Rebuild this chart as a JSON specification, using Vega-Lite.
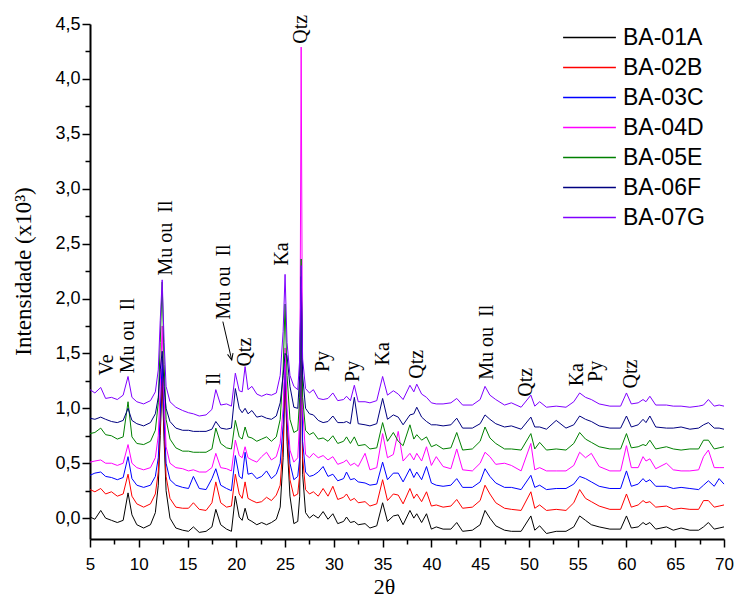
{
"$schema":"https://vega.github.io/schema/vega-lite/v6.json",
"width":634,"height":515,
"autosize":"none",
"padding":{"left":90,"top":24,"right":10,"bottom":58},
"config":{"view":{"stroke":null},"background":"white"},
"datasets":{
"xrd":[
{"s":"BA-01A","x":5,"y":0.01},{"s":"BA-01A","x":5.5,"y":-0.01},{"s":"BA-01A","x":6.1,"y":0.07},{"s":"BA-01A","x":6.6,"y":0.0},{"s":"BA-01A","x":7.2,"y":-0.02},{"s":"BA-01A","x":7.8,"y":-0.04},{"s":"BA-01A","x":8.4,"y":-0.02},{"s":"BA-01A","x":8.9,"y":0.23},{"s":"BA-01A","x":9.3,"y":0.03},{"s":"BA-01A","x":9.8,"y":-0.06},
{"s":"BA-01A","x":10.5,"y":-0.09},{"s":"BA-01A","x":11.2,"y":-0.06},{"s":"BA-01A","x":11.7,"y":0.05},{"s":"BA-01A","x":12,"y":0.3},{"s":"BA-01A","x":12.2,"y":0.75},{"s":"BA-01A","x":12.4,"y":1.25},{"s":"BA-01A","x":12.6,"y":0.7},{"s":"BA-01A","x":12.8,"y":0.25},{"s":"BA-01A","x":13.2,"y":0.0},{"s":"BA-01A","x":13.8,"y":-0.09},
{"s":"BA-01A","x":14.5,"y":-0.11},{"s":"BA-01A","x":15.1,"y":-0.12},{"s":"BA-01A","x":15.6,"y":-0.08},{"s":"BA-01A","x":16.2,"y":-0.13},{"s":"BA-01A","x":16.9,"y":-0.12},{"s":"BA-01A","x":17.5,"y":-0.08},{"s":"BA-01A","x":17.9,"y":0.08},{"s":"BA-01A","x":18.4,"y":-0.06},{"s":"BA-01A","x":19,"y":-0.1},{"s":"BA-01A","x":19.5,"y":-0.12},
{"s":"BA-01A","x":19.9,"y":0.2},{"s":"BA-01A","x":20.3,"y":0.01},{"s":"BA-01A","x":20.6,"y":-0.02},{"s":"BA-01A","x":20.9,"y":0.09},{"s":"BA-01A","x":21.2,"y":-0.01},{"s":"BA-01A","x":21.6,"y":-0.03},{"s":"BA-01A","x":22.1,"y":-0.06},{"s":"BA-01A","x":22.6,"y":-0.04},{"s":"BA-01A","x":23.1,"y":-0.06},{"s":"BA-01A","x":23.6,"y":-0.04},
{"s":"BA-01A","x":24.1,"y":-0.01},{"s":"BA-01A","x":24.5,"y":0.1},{"s":"BA-01A","x":24.8,"y":0.55},{"s":"BA-01A","x":25,"y":1.3},{"s":"BA-01A","x":25.2,"y":0.7},{"s":"BA-01A","x":25.5,"y":0.2},{"s":"BA-01A","x":25.9,"y":-0.05},{"s":"BA-01A","x":26.3,"y":-0.03},{"s":"BA-01A","x":26.5,"y":0.2},{"s":"BA-01A","x":26.65,"y":1.9},
{"s":"BA-01A","x":26.8,"y":0.4},{"s":"BA-01A","x":27.1,"y":0.05},{"s":"BA-01A","x":27.5,"y":0.0},{"s":"BA-01A","x":27.9,"y":0.03},{"s":"BA-01A","x":28.4,"y":0.0},{"s":"BA-01A","x":28.9,"y":0.06},{"s":"BA-01A","x":29.4,"y":-0.01},{"s":"BA-01A","x":29.9,"y":0.04},{"s":"BA-01A","x":30.4,"y":-0.05},{"s":"BA-01A","x":31,"y":-0.03},
{"s":"BA-01A","x":31.3,"y":0.01},{"s":"BA-01A","x":31.7,"y":-0.04},{"s":"BA-01A","x":32.1,"y":-0.03},{"s":"BA-01A","x":32.5,"y":-0.06},{"s":"BA-01A","x":33.2,"y":-0.05},{"s":"BA-01A","x":33.7,"y":-0.09},{"s":"BA-01A","x":34.4,"y":-0.07},{"s":"BA-01A","x":35,"y":0.14},{"s":"BA-01A","x":35.5,"y":-0.03},{"s":"BA-01A","x":36.1,"y":0.02},
{"s":"BA-01A","x":36.6,"y":0.03},{"s":"BA-01A","x":37.1,"y":-0.06},{"s":"BA-01A","x":37.8,"y":0.07},{"s":"BA-01A","x":38.2,"y":0.0},{"s":"BA-01A","x":38.5,"y":0.04},{"s":"BA-01A","x":39,"y":-0.04},{"s":"BA-01A","x":39.5,"y":0.04},{"s":"BA-01A","x":40,"y":-0.1},{"s":"BA-01A","x":40.5,"y":-0.08},{"s":"BA-01A","x":41.2,"y":-0.1},
{"s":"BA-01A","x":42,"y":-0.1},{"s":"BA-01A","x":42.6,"y":-0.04},{"s":"BA-01A","x":43.2,"y":-0.12},{"s":"BA-01A","x":44.2,"y":-0.11},{"s":"BA-01A","x":45,"y":-0.06},{"s":"BA-01A","x":45.5,"y":0.07},{"s":"BA-01A","x":46,"y":0.0},{"s":"BA-01A","x":46.6,"y":-0.07},{"s":"BA-01A","x":47.5,"y":-0.11},{"s":"BA-01A","x":48.2,"y":-0.12},
{"s":"BA-01A","x":49.2,"y":-0.12},{"s":"BA-01A","x":50.2,"y":0.02},{"s":"BA-01A","x":50.6,"y":-0.11},{"s":"BA-01A","x":51.1,"y":-0.07},{"s":"BA-01A","x":51.8,"y":-0.14},{"s":"BA-01A","x":52.8,"y":-0.12},{"s":"BA-01A","x":53.8,"y":-0.12},{"s":"BA-01A","x":54.6,"y":-0.08},{"s":"BA-01A","x":55.2,"y":0.02},{"s":"BA-01A","x":55.8,"y":-0.02},
{"s":"BA-01A","x":56.4,"y":-0.06},{"s":"BA-01A","x":57.2,"y":-0.08},{"s":"BA-01A","x":58.3,"y":-0.1},{"s":"BA-01A","x":59.4,"y":-0.1},{"s":"BA-01A","x":60,"y":0.02},{"s":"BA-01A","x":60.5,"y":-0.09},{"s":"BA-01A","x":61.2,"y":-0.08},{"s":"BA-01A","x":61.7,"y":-0.04},{"s":"BA-01A","x":62,"y":-0.06},{"s":"BA-01A","x":62.4,"y":-0.04},
{"s":"BA-01A","x":63,"y":-0.1},{"s":"BA-01A","x":64.1,"y":-0.08},{"s":"BA-01A","x":64.8,"y":-0.11},{"s":"BA-01A","x":65.6,"y":-0.09},{"s":"BA-01A","x":66.5,"y":-0.11},{"s":"BA-01A","x":67.4,"y":-0.11},{"s":"BA-01A","x":67.9,"y":-0.08},{"s":"BA-01A","x":68.4,"y":-0.04},{"s":"BA-01A","x":69,"y":-0.1},{"s":"BA-01A","x":69.5,"y":-0.09},
{"s":"BA-01A","x":70,"y":-0.08},

{"s":"BA-02B","x":5,"y":0.26},{"s":"BA-02B","x":5.5,"y":0.24},{"s":"BA-02B","x":6.1,"y":0.27},{"s":"BA-02B","x":6.6,"y":0.22},{"s":"BA-02B","x":7.2,"y":0.24},{"s":"BA-02B","x":7.8,"y":0.2},{"s":"BA-02B","x":8.4,"y":0.22},{"s":"BA-02B","x":8.9,"y":0.4},{"s":"BA-02B","x":9.3,"y":0.2},{"s":"BA-02B","x":9.8,"y":0.13},
{"s":"BA-02B","x":10.5,"y":0.1},{"s":"BA-02B","x":11.2,"y":0.13},{"s":"BA-02B","x":11.7,"y":0.22},{"s":"BA-02B","x":12,"y":0.42},{"s":"BA-02B","x":12.2,"y":0.85},{"s":"BA-02B","x":12.4,"y":1.36},{"s":"BA-02B","x":12.6,"y":0.8},{"s":"BA-02B","x":12.8,"y":0.38},{"s":"BA-02B","x":13.2,"y":0.18},{"s":"BA-02B","x":13.8,"y":0.1},
{"s":"BA-02B","x":14.5,"y":0.09},{"s":"BA-02B","x":15.1,"y":0.09},{"s":"BA-02B","x":15.6,"y":0.14},{"s":"BA-02B","x":16.2,"y":0.08},{"s":"BA-02B","x":16.9,"y":0.07},{"s":"BA-02B","x":17.5,"y":0.14},{"s":"BA-02B","x":17.9,"y":0.33},{"s":"BA-02B","x":18.4,"y":0.14},{"s":"BA-02B","x":19,"y":0.1},{"s":"BA-02B","x":19.5,"y":0.11},
{"s":"BA-02B","x":19.9,"y":0.4},{"s":"BA-02B","x":20.3,"y":0.22},{"s":"BA-02B","x":20.6,"y":0.18},{"s":"BA-02B","x":20.9,"y":0.33},{"s":"BA-02B","x":21.2,"y":0.18},{"s":"BA-02B","x":21.6,"y":0.16},{"s":"BA-02B","x":22.1,"y":0.14},{"s":"BA-02B","x":22.6,"y":0.15},{"s":"BA-02B","x":23.1,"y":0.19},{"s":"BA-02B","x":23.6,"y":0.16},
{"s":"BA-02B","x":24.1,"y":0.21},{"s":"BA-02B","x":24.5,"y":0.3},{"s":"BA-02B","x":24.8,"y":0.7},{"s":"BA-02B","x":25,"y":1.35},{"s":"BA-02B","x":25.2,"y":0.8},{"s":"BA-02B","x":25.5,"y":0.35},{"s":"BA-02B","x":25.9,"y":0.2},{"s":"BA-02B","x":26.3,"y":0.22},{"s":"BA-02B","x":26.5,"y":0.4},{"s":"BA-02B","x":26.65,"y":2.0},
{"s":"BA-02B","x":26.8,"y":0.55},{"s":"BA-02B","x":27.1,"y":0.26},{"s":"BA-02B","x":27.5,"y":0.22},{"s":"BA-02B","x":27.9,"y":0.24},{"s":"BA-02B","x":28.4,"y":0.2},{"s":"BA-02B","x":28.9,"y":0.27},{"s":"BA-02B","x":29.4,"y":0.2},{"s":"BA-02B","x":29.9,"y":0.29},{"s":"BA-02B","x":30.4,"y":0.17},{"s":"BA-02B","x":31,"y":0.19},
{"s":"BA-02B","x":31.3,"y":0.22},{"s":"BA-02B","x":31.7,"y":0.16},{"s":"BA-02B","x":32.1,"y":0.18},{"s":"BA-02B","x":32.5,"y":0.14},{"s":"BA-02B","x":33.2,"y":0.15},{"s":"BA-02B","x":33.7,"y":0.11},{"s":"BA-02B","x":34.4,"y":0.13},{"s":"BA-02B","x":35,"y":0.35},{"s":"BA-02B","x":35.5,"y":0.16},{"s":"BA-02B","x":36.1,"y":0.22},
{"s":"BA-02B","x":36.6,"y":0.21},{"s":"BA-02B","x":37.1,"y":0.13},{"s":"BA-02B","x":37.8,"y":0.27},{"s":"BA-02B","x":38.2,"y":0.18},{"s":"BA-02B","x":38.5,"y":0.22},{"s":"BA-02B","x":39,"y":0.15},{"s":"BA-02B","x":39.5,"y":0.24},{"s":"BA-02B","x":40,"y":0.11},{"s":"BA-02B","x":40.5,"y":0.12},{"s":"BA-02B","x":41.2,"y":0.1},
{"s":"BA-02B","x":42,"y":0.11},{"s":"BA-02B","x":42.6,"y":0.17},{"s":"BA-02B","x":43.2,"y":0.09},{"s":"BA-02B","x":44.2,"y":0.1},{"s":"BA-02B","x":45,"y":0.16},{"s":"BA-02B","x":45.5,"y":0.3},{"s":"BA-02B","x":46,"y":0.22},{"s":"BA-02B","x":46.6,"y":0.14},{"s":"BA-02B","x":47.5,"y":0.09},{"s":"BA-02B","x":48.2,"y":0.08},
{"s":"BA-02B","x":49.2,"y":0.07},{"s":"BA-02B","x":50.2,"y":0.24},{"s":"BA-02B","x":50.6,"y":0.09},{"s":"BA-02B","x":51.1,"y":0.12},{"s":"BA-02B","x":51.8,"y":0.07},{"s":"BA-02B","x":52.8,"y":0.08},{"s":"BA-02B","x":53.8,"y":0.07},{"s":"BA-02B","x":54.6,"y":0.14},{"s":"BA-02B","x":55.2,"y":0.26},{"s":"BA-02B","x":55.8,"y":0.18},
{"s":"BA-02B","x":56.4,"y":0.15},{"s":"BA-02B","x":57.2,"y":0.11},{"s":"BA-02B","x":58.3,"y":0.08},{"s":"BA-02B","x":59.4,"y":0.08},{"s":"BA-02B","x":60,"y":0.22},{"s":"BA-02B","x":60.5,"y":0.1},{"s":"BA-02B","x":61.2,"y":0.12},{"s":"BA-02B","x":61.7,"y":0.16},{"s":"BA-02B","x":62,"y":0.14},{"s":"BA-02B","x":62.4,"y":0.15},
{"s":"BA-02B","x":63,"y":0.1},{"s":"BA-02B","x":64.1,"y":0.11},{"s":"BA-02B","x":64.8,"y":0.08},{"s":"BA-02B","x":65.6,"y":0.09},{"s":"BA-02B","x":66.5,"y":0.08},{"s":"BA-02B","x":67.4,"y":0.08},{"s":"BA-02B","x":67.9,"y":0.16},{"s":"BA-02B","x":68.4,"y":0.16},{"s":"BA-02B","x":69,"y":0.1},{"s":"BA-02B","x":69.5,"y":0.11},
{"s":"BA-02B","x":70,"y":0.12},

{"s":"BA-03C","x":5,"y":0.39},{"s":"BA-03C","x":5.5,"y":0.41},{"s":"BA-03C","x":6.1,"y":0.42},{"s":"BA-03C","x":6.6,"y":0.38},{"s":"BA-03C","x":7.2,"y":0.37},{"s":"BA-03C","x":7.8,"y":0.35},{"s":"BA-03C","x":8.4,"y":0.37},{"s":"BA-03C","x":8.9,"y":0.56},{"s":"BA-03C","x":9.3,"y":0.36},{"s":"BA-03C","x":9.8,"y":0.3},
{"s":"BA-03C","x":10.5,"y":0.28},{"s":"BA-03C","x":11.2,"y":0.3},{"s":"BA-03C","x":11.7,"y":0.38},{"s":"BA-03C","x":12,"y":0.55},{"s":"BA-03C","x":12.2,"y":0.95},{"s":"BA-03C","x":12.4,"y":1.45},{"s":"BA-03C","x":12.6,"y":0.9},{"s":"BA-03C","x":12.8,"y":0.5},{"s":"BA-03C","x":13.2,"y":0.35},{"s":"BA-03C","x":13.8,"y":0.3},
{"s":"BA-03C","x":14.5,"y":0.28},{"s":"BA-03C","x":15.1,"y":0.27},{"s":"BA-03C","x":15.6,"y":0.38},{"s":"BA-03C","x":16.2,"y":0.27},{"s":"BA-03C","x":16.9,"y":0.26},{"s":"BA-03C","x":17.5,"y":0.36},{"s":"BA-03C","x":17.9,"y":0.45},{"s":"BA-03C","x":18.4,"y":0.3},{"s":"BA-03C","x":19,"y":0.27},{"s":"BA-03C","x":19.5,"y":0.25},
{"s":"BA-03C","x":19.9,"y":0.57},{"s":"BA-03C","x":20.3,"y":0.38},{"s":"BA-03C","x":20.6,"y":0.36},{"s":"BA-03C","x":20.9,"y":0.6},{"s":"BA-03C","x":21.2,"y":0.4},{"s":"BA-03C","x":21.6,"y":0.41},{"s":"BA-03C","x":22.1,"y":0.36},{"s":"BA-03C","x":22.6,"y":0.38},{"s":"BA-03C","x":23.1,"y":0.43},{"s":"BA-03C","x":23.6,"y":0.36},
{"s":"BA-03C","x":24.1,"y":0.4},{"s":"BA-03C","x":24.5,"y":0.5},{"s":"BA-03C","x":24.8,"y":0.85},{"s":"BA-03C","x":25,"y":1.4},{"s":"BA-03C","x":25.2,"y":0.9},{"s":"BA-03C","x":25.5,"y":0.5},{"s":"BA-03C","x":25.9,"y":0.35},{"s":"BA-03C","x":26.3,"y":0.38},{"s":"BA-03C","x":26.5,"y":0.55},{"s":"BA-03C","x":26.65,"y":2.1},
{"s":"BA-03C","x":26.8,"y":0.7},{"s":"BA-03C","x":27.1,"y":0.42},{"s":"BA-03C","x":27.5,"y":0.38},{"s":"BA-03C","x":27.9,"y":0.39},{"s":"BA-03C","x":28.4,"y":0.42},{"s":"BA-03C","x":28.9,"y":0.47},{"s":"BA-03C","x":29.4,"y":0.38},{"s":"BA-03C","x":29.9,"y":0.4},{"s":"BA-03C","x":30.4,"y":0.34},{"s":"BA-03C","x":31,"y":0.36},
{"s":"BA-03C","x":31.3,"y":0.42},{"s":"BA-03C","x":31.7,"y":0.35},{"s":"BA-03C","x":32.1,"y":0.36},{"s":"BA-03C","x":32.5,"y":0.33},{"s":"BA-03C","x":33.2,"y":0.32},{"s":"BA-03C","x":33.7,"y":0.3},{"s":"BA-03C","x":34.4,"y":0.31},{"s":"BA-03C","x":35,"y":0.51},{"s":"BA-03C","x":35.5,"y":0.35},{"s":"BA-03C","x":36.1,"y":0.41},
{"s":"BA-03C","x":36.6,"y":0.41},{"s":"BA-03C","x":37.1,"y":0.33},{"s":"BA-03C","x":37.8,"y":0.45},{"s":"BA-03C","x":38.2,"y":0.37},{"s":"BA-03C","x":38.5,"y":0.42},{"s":"BA-03C","x":39,"y":0.35},{"s":"BA-03C","x":39.5,"y":0.47},{"s":"BA-03C","x":40,"y":0.32},{"s":"BA-03C","x":40.5,"y":0.3},{"s":"BA-03C","x":41.2,"y":0.29},
{"s":"BA-03C","x":42,"y":0.3},{"s":"BA-03C","x":42.6,"y":0.36},{"s":"BA-03C","x":43.2,"y":0.28},{"s":"BA-03C","x":44.2,"y":0.28},{"s":"BA-03C","x":45,"y":0.33},{"s":"BA-03C","x":45.5,"y":0.45},{"s":"BA-03C","x":46,"y":0.38},{"s":"BA-03C","x":46.6,"y":0.32},{"s":"BA-03C","x":47.5,"y":0.28},{"s":"BA-03C","x":48.2,"y":0.28},
{"s":"BA-03C","x":49.2,"y":0.26},{"s":"BA-03C","x":50.2,"y":0.39},{"s":"BA-03C","x":50.6,"y":0.28},{"s":"BA-03C","x":51.1,"y":0.3},{"s":"BA-03C","x":51.8,"y":0.26},{"s":"BA-03C","x":52.8,"y":0.27},{"s":"BA-03C","x":53.8,"y":0.27},{"s":"BA-03C","x":54.6,"y":0.31},{"s":"BA-03C","x":55.2,"y":0.38},{"s":"BA-03C","x":55.8,"y":0.36},
{"s":"BA-03C","x":56.4,"y":0.33},{"s":"BA-03C","x":57.2,"y":0.29},{"s":"BA-03C","x":58.3,"y":0.27},{"s":"BA-03C","x":59.4,"y":0.27},{"s":"BA-03C","x":60,"y":0.43},{"s":"BA-03C","x":60.5,"y":0.29},{"s":"BA-03C","x":61.2,"y":0.31},{"s":"BA-03C","x":61.7,"y":0.36},{"s":"BA-03C","x":62,"y":0.33},{"s":"BA-03C","x":62.4,"y":0.35},
{"s":"BA-03C","x":63,"y":0.29},{"s":"BA-03C","x":64.1,"y":0.29},{"s":"BA-03C","x":64.8,"y":0.27},{"s":"BA-03C","x":65.6,"y":0.28},{"s":"BA-03C","x":66.5,"y":0.27},{"s":"BA-03C","x":67.4,"y":0.26},{"s":"BA-03C","x":67.9,"y":0.3},{"s":"BA-03C","x":68.4,"y":0.34},{"s":"BA-03C","x":69,"y":0.29},{"s":"BA-03C","x":69.5,"y":0.36},
{"s":"BA-03C","x":70,"y":0.31},

{"s":"BA-04D","x":5,"y":0.51},{"s":"BA-04D","x":5.5,"y":0.52},{"s":"BA-04D","x":6.1,"y":0.53},{"s":"BA-04D","x":6.6,"y":0.5},{"s":"BA-04D","x":7.2,"y":0.5},{"s":"BA-04D","x":7.8,"y":0.48},{"s":"BA-04D","x":8.4,"y":0.5},{"s":"BA-04D","x":8.9,"y":0.67},{"s":"BA-04D","x":9.3,"y":0.5},{"s":"BA-04D","x":9.8,"y":0.46},
{"s":"BA-04D","x":10.5,"y":0.44},{"s":"BA-04D","x":11.2,"y":0.46},{"s":"BA-04D","x":11.7,"y":0.55},{"s":"BA-04D","x":12,"y":0.75},{"s":"BA-04D","x":12.2,"y":1.2},{"s":"BA-04D","x":12.4,"y":1.75},{"s":"BA-04D","x":12.6,"y":1.1},{"s":"BA-04D","x":12.8,"y":0.65},{"s":"BA-04D","x":13.2,"y":0.5},{"s":"BA-04D","x":13.8,"y":0.46},
{"s":"BA-04D","x":14.5,"y":0.45},{"s":"BA-04D","x":15.1,"y":0.43},{"s":"BA-04D","x":15.6,"y":0.44},{"s":"BA-04D","x":16.2,"y":0.42},{"s":"BA-04D","x":16.9,"y":0.42},{"s":"BA-04D","x":17.5,"y":0.46},{"s":"BA-04D","x":17.9,"y":0.59},{"s":"BA-04D","x":18.4,"y":0.46},{"s":"BA-04D","x":19,"y":0.45},{"s":"BA-04D","x":19.5,"y":0.43},
{"s":"BA-04D","x":19.9,"y":0.71},{"s":"BA-04D","x":20.3,"y":0.57},{"s":"BA-04D","x":20.6,"y":0.55},{"s":"BA-04D","x":20.9,"y":0.65},{"s":"BA-04D","x":21.2,"y":0.55},{"s":"BA-04D","x":21.6,"y":0.53},{"s":"BA-04D","x":22.1,"y":0.51},{"s":"BA-04D","x":22.6,"y":0.56},{"s":"BA-04D","x":23.1,"y":0.6},{"s":"BA-04D","x":23.6,"y":0.53},
{"s":"BA-04D","x":24.1,"y":0.56},{"s":"BA-04D","x":24.5,"y":0.68},{"s":"BA-04D","x":24.8,"y":1.0},{"s":"BA-04D","x":25,"y":1.55},{"s":"BA-04D","x":25.2,"y":1.0},{"s":"BA-04D","x":25.5,"y":0.62},{"s":"BA-04D","x":25.9,"y":0.51},{"s":"BA-04D","x":26.3,"y":0.55},{"s":"BA-04D","x":26.5,"y":0.9},{"s":"BA-04D","x":26.65,"y":4.29},
{"s":"BA-04D","x":26.8,"y":1.0},{"s":"BA-04D","x":27.1,"y":0.58},{"s":"BA-04D","x":27.5,"y":0.55},{"s":"BA-04D","x":27.9,"y":0.59},{"s":"BA-04D","x":28.4,"y":0.55},{"s":"BA-04D","x":28.9,"y":0.57},{"s":"BA-04D","x":29.4,"y":0.53},{"s":"BA-04D","x":29.9,"y":0.56},{"s":"BA-04D","x":30.4,"y":0.49},{"s":"BA-04D","x":31,"y":0.51},
{"s":"BA-04D","x":31.3,"y":0.53},{"s":"BA-04D","x":31.7,"y":0.48},{"s":"BA-04D","x":32.1,"y":0.5},{"s":"BA-04D","x":32.5,"y":0.47},{"s":"BA-04D","x":33.2,"y":0.59},{"s":"BA-04D","x":33.7,"y":0.44},{"s":"BA-04D","x":34.4,"y":0.46},{"s":"BA-04D","x":35,"y":0.77},{"s":"BA-04D","x":35.5,"y":0.55},{"s":"BA-04D","x":36.1,"y":0.58},
{"s":"BA-04D","x":36.6,"y":0.79},{"s":"BA-04D","x":37.1,"y":0.52},{"s":"BA-04D","x":37.8,"y":0.59},{"s":"BA-04D","x":38.2,"y":0.53},{"s":"BA-04D","x":38.5,"y":0.59},{"s":"BA-04D","x":39,"y":0.52},{"s":"BA-04D","x":39.5,"y":0.65},{"s":"BA-04D","x":40,"y":0.48},{"s":"BA-04D","x":40.5,"y":0.56},{"s":"BA-04D","x":41.2,"y":0.47},
{"s":"BA-04D","x":42,"y":0.45},{"s":"BA-04D","x":42.6,"y":0.63},{"s":"BA-04D","x":43.2,"y":0.44},{"s":"BA-04D","x":44.2,"y":0.43},{"s":"BA-04D","x":45,"y":0.5},{"s":"BA-04D","x":45.5,"y":0.6},{"s":"BA-04D","x":46,"y":0.56},{"s":"BA-04D","x":46.6,"y":0.49},{"s":"BA-04D","x":47.5,"y":0.5},{"s":"BA-04D","x":48.2,"y":0.48},
{"s":"BA-04D","x":49.2,"y":0.43},{"s":"BA-04D","x":50.2,"y":0.68},{"s":"BA-04D","x":50.6,"y":0.44},{"s":"BA-04D","x":51.1,"y":0.46},{"s":"BA-04D","x":51.8,"y":0.43},{"s":"BA-04D","x":52.8,"y":0.43},{"s":"BA-04D","x":53.8,"y":0.43},{"s":"BA-04D","x":54.6,"y":0.48},{"s":"BA-04D","x":55.2,"y":0.6},{"s":"BA-04D","x":55.8,"y":0.55},
{"s":"BA-04D","x":56.4,"y":0.59},{"s":"BA-04D","x":57.2,"y":0.47},{"s":"BA-04D","x":58.3,"y":0.43},{"s":"BA-04D","x":59.4,"y":0.43},{"s":"BA-04D","x":60,"y":0.66},{"s":"BA-04D","x":60.5,"y":0.46},{"s":"BA-04D","x":61.2,"y":0.46},{"s":"BA-04D","x":61.7,"y":0.56},{"s":"BA-04D","x":62,"y":0.52},{"s":"BA-04D","x":62.4,"y":0.54},
{"s":"BA-04D","x":63,"y":0.45},{"s":"BA-04D","x":64.1,"y":0.5},{"s":"BA-04D","x":64.8,"y":0.44},{"s":"BA-04D","x":65.6,"y":0.43},{"s":"BA-04D","x":66.5,"y":0.43},{"s":"BA-04D","x":67.4,"y":0.44},{"s":"BA-04D","x":67.9,"y":0.56},{"s":"BA-04D","x":68.4,"y":0.62},{"s":"BA-04D","x":69,"y":0.46},{"s":"BA-04D","x":69.5,"y":0.46},
{"s":"BA-04D","x":70,"y":0.46},

{"s":"BA-05E","x":5,"y":0.77},{"s":"BA-05E","x":5.5,"y":0.78},{"s":"BA-05E","x":6.1,"y":0.82},{"s":"BA-05E","x":6.6,"y":0.76},{"s":"BA-05E","x":7.2,"y":0.75},{"s":"BA-05E","x":7.8,"y":0.72},{"s":"BA-05E","x":8.4,"y":0.74},{"s":"BA-05E","x":8.9,"y":1.06},{"s":"BA-05E","x":9.3,"y":0.74},{"s":"BA-05E","x":9.8,"y":0.68},
{"s":"BA-05E","x":10.5,"y":0.67},{"s":"BA-05E","x":11.2,"y":0.7},{"s":"BA-05E","x":11.7,"y":0.8},{"s":"BA-05E","x":12,"y":1.05},{"s":"BA-05E","x":12.2,"y":1.6},{"s":"BA-05E","x":12.4,"y":2.15},{"s":"BA-05E","x":12.6,"y":1.4},{"s":"BA-05E","x":12.8,"y":0.9},{"s":"BA-05E","x":13.2,"y":0.72},{"s":"BA-05E","x":13.8,"y":0.64},
{"s":"BA-05E","x":14.5,"y":0.61},{"s":"BA-05E","x":15.1,"y":0.61},{"s":"BA-05E","x":15.6,"y":0.6},{"s":"BA-05E","x":16.2,"y":0.6},{"s":"BA-05E","x":16.9,"y":0.6},{"s":"BA-05E","x":17.5,"y":0.63},{"s":"BA-05E","x":17.9,"y":0.82},{"s":"BA-05E","x":18.4,"y":0.68},{"s":"BA-05E","x":19,"y":0.64},{"s":"BA-05E","x":19.5,"y":0.63},
{"s":"BA-05E","x":19.9,"y":0.89},{"s":"BA-05E","x":20.3,"y":0.74},{"s":"BA-05E","x":20.6,"y":0.72},{"s":"BA-05E","x":20.9,"y":0.83},{"s":"BA-05E","x":21.2,"y":0.74},{"s":"BA-05E","x":21.6,"y":0.73},{"s":"BA-05E","x":22.1,"y":0.7},{"s":"BA-05E","x":22.6,"y":0.72},{"s":"BA-05E","x":23.1,"y":0.74},{"s":"BA-05E","x":23.6,"y":0.7},
{"s":"BA-05E","x":24.1,"y":0.74},{"s":"BA-05E","x":24.5,"y":0.9},{"s":"BA-05E","x":24.8,"y":1.35},{"s":"BA-05E","x":25,"y":1.95},{"s":"BA-05E","x":25.2,"y":1.3},{"s":"BA-05E","x":25.5,"y":0.9},{"s":"BA-05E","x":25.9,"y":0.78},{"s":"BA-05E","x":26.3,"y":0.8},{"s":"BA-05E","x":26.5,"y":1.1},{"s":"BA-05E","x":26.65,"y":2.36},
{"s":"BA-05E","x":26.8,"y":1.1},{"s":"BA-05E","x":27.1,"y":0.8},{"s":"BA-05E","x":27.5,"y":0.76},{"s":"BA-05E","x":27.9,"y":0.78},{"s":"BA-05E","x":28.4,"y":0.72},{"s":"BA-05E","x":28.9,"y":0.73},{"s":"BA-05E","x":29.4,"y":0.7},{"s":"BA-05E","x":29.9,"y":0.75},{"s":"BA-05E","x":30.4,"y":0.68},{"s":"BA-05E","x":31,"y":0.7},
{"s":"BA-05E","x":31.3,"y":0.74},{"s":"BA-05E","x":31.7,"y":0.68},{"s":"BA-05E","x":32.1,"y":0.74},{"s":"BA-05E","x":32.5,"y":0.66},{"s":"BA-05E","x":33.2,"y":0.67},{"s":"BA-05E","x":33.7,"y":0.63},{"s":"BA-05E","x":34.4,"y":0.64},{"s":"BA-05E","x":35,"y":0.87},{"s":"BA-05E","x":35.5,"y":0.7},{"s":"BA-05E","x":36.1,"y":0.78},
{"s":"BA-05E","x":36.6,"y":0.7},{"s":"BA-05E","x":37.1,"y":0.66},{"s":"BA-05E","x":37.8,"y":0.85},{"s":"BA-05E","x":38.2,"y":0.72},{"s":"BA-05E","x":38.5,"y":0.76},{"s":"BA-05E","x":39,"y":0.71},{"s":"BA-05E","x":39.5,"y":0.74},{"s":"BA-05E","x":40,"y":0.65},{"s":"BA-05E","x":40.5,"y":0.67},{"s":"BA-05E","x":41.2,"y":0.63},
{"s":"BA-05E","x":42,"y":0.64},{"s":"BA-05E","x":42.6,"y":0.78},{"s":"BA-05E","x":43.2,"y":0.62},{"s":"BA-05E","x":44.2,"y":0.63},{"s":"BA-05E","x":45,"y":0.7},{"s":"BA-05E","x":45.5,"y":0.83},{"s":"BA-05E","x":46,"y":0.73},{"s":"BA-05E","x":46.6,"y":0.68},{"s":"BA-05E","x":47.5,"y":0.63},{"s":"BA-05E","x":48.2,"y":0.63},
{"s":"BA-05E","x":49.2,"y":0.62},{"s":"BA-05E","x":50.2,"y":0.77},{"s":"BA-05E","x":50.6,"y":0.63},{"s":"BA-05E","x":51.1,"y":0.69},{"s":"BA-05E","x":51.8,"y":0.62},{"s":"BA-05E","x":52.8,"y":0.63},{"s":"BA-05E","x":53.8,"y":0.62},{"s":"BA-05E","x":54.6,"y":0.68},{"s":"BA-05E","x":55.2,"y":0.78},{"s":"BA-05E","x":55.8,"y":0.72},
{"s":"BA-05E","x":56.4,"y":0.69},{"s":"BA-05E","x":57.2,"y":0.65},{"s":"BA-05E","x":58.3,"y":0.63},{"s":"BA-05E","x":59.4,"y":0.63},{"s":"BA-05E","x":60,"y":0.77},{"s":"BA-05E","x":60.5,"y":0.64},{"s":"BA-05E","x":61.2,"y":0.65},{"s":"BA-05E","x":61.7,"y":0.67},{"s":"BA-05E","x":62,"y":0.66},{"s":"BA-05E","x":62.4,"y":0.71},
{"s":"BA-05E","x":63,"y":0.63},{"s":"BA-05E","x":64.1,"y":0.65},{"s":"BA-05E","x":64.8,"y":0.63},{"s":"BA-05E","x":65.6,"y":0.62},{"s":"BA-05E","x":66.5,"y":0.63},{"s":"BA-05E","x":67.4,"y":0.63},{"s":"BA-05E","x":67.9,"y":0.71},{"s":"BA-05E","x":68.4,"y":0.71},{"s":"BA-05E","x":69,"y":0.63},{"s":"BA-05E","x":69.5,"y":0.64},
{"s":"BA-05E","x":70,"y":0.65},

{"s":"BA-06F","x":5,"y":0.91},{"s":"BA-06F","x":5.5,"y":0.9},{"s":"BA-06F","x":6.1,"y":0.92},{"s":"BA-06F","x":6.6,"y":0.9},{"s":"BA-06F","x":7.2,"y":0.88},{"s":"BA-06F","x":7.8,"y":0.87},{"s":"BA-06F","x":8.4,"y":0.89},{"s":"BA-06F","x":8.9,"y":1.0},{"s":"BA-06F","x":9.3,"y":0.89},{"s":"BA-06F","x":9.8,"y":0.86},
{"s":"BA-06F","x":10.5,"y":0.84},{"s":"BA-06F","x":11.2,"y":0.87},{"s":"BA-06F","x":11.7,"y":0.95},{"s":"BA-06F","x":12,"y":1.1},{"s":"BA-06F","x":12.2,"y":1.35},{"s":"BA-06F","x":12.4,"y":1.52},{"s":"BA-06F","x":12.6,"y":1.2},{"s":"BA-06F","x":12.8,"y":1.0},{"s":"BA-06F","x":13.2,"y":0.88},{"s":"BA-06F","x":13.8,"y":0.82},
{"s":"BA-06F","x":14.5,"y":0.8},{"s":"BA-06F","x":15.1,"y":0.8},{"s":"BA-06F","x":15.6,"y":0.79},{"s":"BA-06F","x":16.2,"y":0.79},{"s":"BA-06F","x":16.9,"y":0.79},{"s":"BA-06F","x":17.5,"y":0.81},{"s":"BA-06F","x":17.9,"y":0.88},{"s":"BA-06F","x":18.4,"y":0.82},{"s":"BA-06F","x":19,"y":0.81},{"s":"BA-06F","x":19.5,"y":0.82},
{"s":"BA-06F","x":19.9,"y":1.18},{"s":"BA-06F","x":20.3,"y":1.0},{"s":"BA-06F","x":20.6,"y":0.96},{"s":"BA-06F","x":20.9,"y":1.0},{"s":"BA-06F","x":21.2,"y":0.95},{"s":"BA-06F","x":21.6,"y":0.98},{"s":"BA-06F","x":22.1,"y":0.92},{"s":"BA-06F","x":22.6,"y":0.93},{"s":"BA-06F","x":23.1,"y":0.91},{"s":"BA-06F","x":23.6,"y":0.9},
{"s":"BA-06F","x":24.1,"y":0.93},{"s":"BA-06F","x":24.5,"y":1.05},{"s":"BA-06F","x":24.8,"y":1.3},{"s":"BA-06F","x":25,"y":1.5},{"s":"BA-06F","x":25.2,"y":1.48},{"s":"BA-06F","x":25.5,"y":1.2},{"s":"BA-06F","x":25.9,"y":1.01},{"s":"BA-06F","x":26.3,"y":1.0},{"s":"BA-06F","x":26.5,"y":1.3},{"s":"BA-06F","x":26.65,"y":2.2},
{"s":"BA-06F","x":26.8,"y":1.3},{"s":"BA-06F","x":27.1,"y":1.0},{"s":"BA-06F","x":27.5,"y":0.95},{"s":"BA-06F","x":27.9,"y":0.94},{"s":"BA-06F","x":28.4,"y":0.89},{"s":"BA-06F","x":28.9,"y":0.87},{"s":"BA-06F","x":29.4,"y":0.88},{"s":"BA-06F","x":29.9,"y":0.93},{"s":"BA-06F","x":30.4,"y":0.87},{"s":"BA-06F","x":31,"y":0.87},
{"s":"BA-06F","x":31.3,"y":0.88},{"s":"BA-06F","x":31.7,"y":0.86},{"s":"BA-06F","x":32.1,"y":1.1},{"s":"BA-06F","x":32.5,"y":0.86},{"s":"BA-06F","x":33.2,"y":0.85},{"s":"BA-06F","x":33.7,"y":0.84},{"s":"BA-06F","x":34.4,"y":0.86},{"s":"BA-06F","x":35,"y":1.09},{"s":"BA-06F","x":35.5,"y":0.9},{"s":"BA-06F","x":36.1,"y":0.94},
{"s":"BA-06F","x":36.6,"y":0.92},{"s":"BA-06F","x":37.1,"y":0.85},{"s":"BA-06F","x":37.8,"y":0.94},{"s":"BA-06F","x":38.2,"y":0.95},{"s":"BA-06F","x":38.5,"y":1.01},{"s":"BA-06F","x":39,"y":0.92},{"s":"BA-06F","x":39.5,"y":0.88},{"s":"BA-06F","x":40,"y":0.85},{"s":"BA-06F","x":40.5,"y":0.85},{"s":"BA-06F","x":41.2,"y":0.84},
{"s":"BA-06F","x":42,"y":0.85},{"s":"BA-06F","x":42.6,"y":0.91},{"s":"BA-06F","x":43.2,"y":0.82},{"s":"BA-06F","x":44.2,"y":0.82},{"s":"BA-06F","x":45,"y":0.86},{"s":"BA-06F","x":45.5,"y":0.94},{"s":"BA-06F","x":46,"y":0.9},{"s":"BA-06F","x":46.6,"y":0.86},{"s":"BA-06F","x":47.5,"y":0.83},{"s":"BA-06F","x":48.2,"y":0.84},
{"s":"BA-06F","x":49.2,"y":0.81},{"s":"BA-06F","x":50.2,"y":0.92},{"s":"BA-06F","x":50.6,"y":0.83},{"s":"BA-06F","x":51.1,"y":0.83},{"s":"BA-06F","x":51.8,"y":0.81},{"s":"BA-06F","x":52.8,"y":0.89},{"s":"BA-06F","x":53.8,"y":0.82},{"s":"BA-06F","x":54.6,"y":0.85},{"s":"BA-06F","x":55.2,"y":0.93},{"s":"BA-06F","x":55.8,"y":0.9},
{"s":"BA-06F","x":56.4,"y":0.88},{"s":"BA-06F","x":57.2,"y":0.84},{"s":"BA-06F","x":58.3,"y":0.82},{"s":"BA-06F","x":59.4,"y":0.82},{"s":"BA-06F","x":60,"y":0.93},{"s":"BA-06F","x":60.5,"y":0.83},{"s":"BA-06F","x":61.2,"y":0.85},{"s":"BA-06F","x":61.7,"y":0.9},{"s":"BA-06F","x":62,"y":0.87},{"s":"BA-06F","x":62.4,"y":0.93},
{"s":"BA-06F","x":63,"y":0.83},{"s":"BA-06F","x":64.1,"y":0.82},{"s":"BA-06F","x":64.8,"y":0.82},{"s":"BA-06F","x":65.6,"y":0.83},{"s":"BA-06F","x":66.5,"y":0.81},{"s":"BA-06F","x":67.4,"y":0.82},{"s":"BA-06F","x":67.9,"y":0.85},{"s":"BA-06F","x":68.4,"y":0.87},{"s":"BA-06F","x":69,"y":0.82},{"s":"BA-06F","x":69.5,"y":0.82},
{"s":"BA-06F","x":70,"y":0.81},

{"s":"BA-07G","x":5,"y":1.17},{"s":"BA-07G","x":5.5,"y":1.14},{"s":"BA-07G","x":6.1,"y":1.19},{"s":"BA-07G","x":6.6,"y":1.09},{"s":"BA-07G","x":7.2,"y":1.1},{"s":"BA-07G","x":7.8,"y":1.08},{"s":"BA-07G","x":8.4,"y":1.12},{"s":"BA-07G","x":8.9,"y":1.29},{"s":"BA-07G","x":9.3,"y":1.1},{"s":"BA-07G","x":9.8,"y":1.06},
{"s":"BA-07G","x":10.5,"y":1.04},{"s":"BA-07G","x":11.2,"y":1.07},{"s":"BA-07G","x":11.7,"y":1.15},{"s":"BA-07G","x":12,"y":1.35},{"s":"BA-07G","x":12.2,"y":1.8},{"s":"BA-07G","x":12.4,"y":2.17},{"s":"BA-07G","x":12.6,"y":1.6},{"s":"BA-07G","x":12.8,"y":1.2},{"s":"BA-07G","x":13.2,"y":1.06},{"s":"BA-07G","x":13.8,"y":1.01},
{"s":"BA-07G","x":14.5,"y":0.98},{"s":"BA-07G","x":15.1,"y":0.96},{"s":"BA-07G","x":15.6,"y":0.95},{"s":"BA-07G","x":16.2,"y":0.93},{"s":"BA-07G","x":16.9,"y":0.94},{"s":"BA-07G","x":17.5,"y":0.99},{"s":"BA-07G","x":17.9,"y":1.17},{"s":"BA-07G","x":18.4,"y":1.03},{"s":"BA-07G","x":19,"y":1.04},{"s":"BA-07G","x":19.5,"y":1.02},
{"s":"BA-07G","x":19.9,"y":1.32},{"s":"BA-07G","x":20.3,"y":1.16},{"s":"BA-07G","x":20.6,"y":1.15},{"s":"BA-07G","x":20.9,"y":1.38},{"s":"BA-07G","x":21.2,"y":1.17},{"s":"BA-07G","x":21.6,"y":1.2},{"s":"BA-07G","x":22.1,"y":1.13},{"s":"BA-07G","x":22.6,"y":1.11},{"s":"BA-07G","x":23.1,"y":1.13},{"s":"BA-07G","x":23.6,"y":1.12},
{"s":"BA-07G","x":24.1,"y":1.14},{"s":"BA-07G","x":24.5,"y":1.3},{"s":"BA-07G","x":24.8,"y":1.7},{"s":"BA-07G","x":25,"y":2.22},{"s":"BA-07G","x":25.2,"y":1.6},{"s":"BA-07G","x":25.5,"y":1.3},{"s":"BA-07G","x":25.9,"y":1.2},{"s":"BA-07G","x":26.3,"y":1.17},{"s":"BA-07G","x":26.5,"y":1.45},{"s":"BA-07G","x":26.65,"y":2.3},
{"s":"BA-07G","x":26.8,"y":1.45},{"s":"BA-07G","x":27.1,"y":1.18},{"s":"BA-07G","x":27.5,"y":1.14},{"s":"BA-07G","x":27.9,"y":1.17},{"s":"BA-07G","x":28.4,"y":1.09},{"s":"BA-07G","x":28.9,"y":1.08},{"s":"BA-07G","x":29.4,"y":1.09},{"s":"BA-07G","x":29.9,"y":1.14},{"s":"BA-07G","x":30.4,"y":1.07},{"s":"BA-07G","x":31,"y":1.08},
{"s":"BA-07G","x":31.3,"y":1.11},{"s":"BA-07G","x":31.7,"y":1.07},{"s":"BA-07G","x":32.1,"y":1.21},{"s":"BA-07G","x":32.5,"y":1.06},{"s":"BA-07G","x":33.2,"y":1.06},{"s":"BA-07G","x":33.7,"y":1.05},{"s":"BA-07G","x":34.4,"y":1.07},{"s":"BA-07G","x":35,"y":1.29},{"s":"BA-07G","x":35.5,"y":1.12},{"s":"BA-07G","x":36.1,"y":1.16},
{"s":"BA-07G","x":36.6,"y":1.13},{"s":"BA-07G","x":37.1,"y":1.08},{"s":"BA-07G","x":37.8,"y":1.21},{"s":"BA-07G","x":38.2,"y":1.15},{"s":"BA-07G","x":38.5,"y":1.22},{"s":"BA-07G","x":39,"y":1.13},{"s":"BA-07G","x":39.5,"y":1.1},{"s":"BA-07G","x":40,"y":1.05},{"s":"BA-07G","x":40.5,"y":1.04},{"s":"BA-07G","x":41.2,"y":1.04},
{"s":"BA-07G","x":42,"y":1.05},{"s":"BA-07G","x":42.6,"y":1.09},{"s":"BA-07G","x":43.2,"y":1.03},{"s":"BA-07G","x":44.2,"y":1.03},{"s":"BA-07G","x":45,"y":1.08},{"s":"BA-07G","x":45.5,"y":1.2},{"s":"BA-07G","x":46,"y":1.12},{"s":"BA-07G","x":46.6,"y":1.08},{"s":"BA-07G","x":47.5,"y":1.03},{"s":"BA-07G","x":48.2,"y":1.05},
{"s":"BA-07G","x":49.2,"y":1.01},{"s":"BA-07G","x":50.2,"y":1.12},{"s":"BA-07G","x":50.6,"y":1.02},{"s":"BA-07G","x":51.1,"y":1.06},{"s":"BA-07G","x":51.8,"y":1.01},{"s":"BA-07G","x":52.8,"y":1.02},{"s":"BA-07G","x":53.8,"y":1.01},{"s":"BA-07G","x":54.6,"y":1.06},{"s":"BA-07G","x":55.2,"y":1.14},{"s":"BA-07G","x":55.8,"y":1.1},
{"s":"BA-07G","x":56.4,"y":1.08},{"s":"BA-07G","x":57.2,"y":1.04},{"s":"BA-07G","x":58.3,"y":1.02},{"s":"BA-07G","x":59.4,"y":1.02},{"s":"BA-07G","x":60,"y":1.14},{"s":"BA-07G","x":60.5,"y":1.04},{"s":"BA-07G","x":61.2,"y":1.05},{"s":"BA-07G","x":61.7,"y":1.08},{"s":"BA-07G","x":62,"y":1.06},{"s":"BA-07G","x":62.4,"y":1.11},
{"s":"BA-07G","x":63,"y":1.03},{"s":"BA-07G","x":64.1,"y":1.03},{"s":"BA-07G","x":64.8,"y":1.02},{"s":"BA-07G","x":65.6,"y":1.02},{"s":"BA-07G","x":66.5,"y":1.01},{"s":"BA-07G","x":67.4,"y":1.02},{"s":"BA-07G","x":67.9,"y":1.03},{"s":"BA-07G","x":68.4,"y":1.08},{"s":"BA-07G","x":69,"y":1.02},{"s":"BA-07G","x":69.5,"y":1.03},
{"s":"BA-07G","x":70,"y":1.02}
],
"labels":[
{"x":6.74,"y":1.3,"t":"Ve"},
{"x":8.9,"y":1.32,"t":"Mu ou\u00a0\u00a0Il"},
{"x":12.76,"y":2.21,"t":"Mu ou\u00a0\u00a0Il"},
{"x":17.7,"y":1.21,"t":"Il"},
{"x":18.74,"y":1.81,"t":"Mu ou\u00a0\u00a0Il"},
{"x":20.9,"y":1.38,"t":"Qtz"},
{"x":24.65,"y":2.3,"t":"Ka"},
{"x":26.6,"y":4.32,"t":"Qtz"},
{"x":28.85,"y":1.33,"t":"Py"},
{"x":31.93,"y":1.24,"t":"Py"},
{"x":35.07,"y":1.39,"t":"Ka"},
{"x":38.56,"y":1.27,"t":"Qtz"},
{"x":45.73,"y":1.26,"t":"Mu ou\u00a0\u00a0Il"},
{"x":49.67,"y":1.105,"t":"Qtz"},
{"x":54.96,"y":1.2,"t":"Ka"},
{"x":56.88,"y":1.24,"t":"Py"},
{"x":60.43,"y":1.18,"t":"Qtz"}
],
"arrow":[{"x":18.62,"y":1.79,"x2":19.53,"y2":1.44}]
},
"layer":[
{"data":{"name":"xrd"},
 "mark":{"type":"line","strokeWidth":1},
 "encoding":{
  "x":{"field":"x","type":"quantitative","scale":{"domain":[5,70],"nice":false,"zero":false},
   "axis":{"orient":"bottom","values":[5,10,15,20,25,30,35,40,45,50,55,60,65,70],"format":"d","grid":false,"labelFlush":false,"labelOverlap":false,
    "labelFont":"Liberation Sans","labelFontSize":17,"labelColor":"black","labelPadding":9,
    "tickSize":8,"tickWidth":1.5,"tickColor":"black","domainColor":"black","domainWidth":2,
    "title":"2θ","titleFont":"Liberation Serif","titleFontSize":22,"titleFontWeight":"normal","titleColor":"black",
    "titleX":294,"titleY":37,"titleAlign":"center","titleBaseline":"top","titleAnchor":"start"}},
  "y":{"field":"y","type":"quantitative","scale":{"domain":[-0.19,4.5],"nice":false,"zero":false},
   "axis":{"orient":"left","values":[0,0.5,1,1.5,2,2.5,3,3.5,4,4.5],"labelExpr":"replace(format(datum.value, '.1f'), '.', ',')","grid":false,"labelOverlap":false,
    "labelFont":"Liberation Sans","labelFontSize":18,"labelColor":"black","labelPadding":2,
    "tickSize":8,"tickWidth":1.5,"tickColor":"black","domainColor":"black","domainWidth":2,
    "title":"Intensidade (x10³)","titleFont":"Liberation Serif","titleFontSize":23,"titleFontWeight":"normal","titleColor":"black",
    "titleAngle":270,"titleX":-67,"titleY":247,"titleAlign":"center","titleBaseline":"middle","titleAnchor":"start"}},
  "color":{"field":"s","type":"nominal",
   "scale":{"domain":["BA-01A","BA-02B","BA-03C","BA-04D","BA-05E","BA-06F","BA-07G"],"range":["#000000","#FF0000","#0000FF","#FF00FF","#008000","#000080","#8000FF"]},
   "legend":{"orient":"none","legendX":488,"legendY":2,"title":null,"padding":0,"rowPadding":6,
    "labelFont":"Liberation Sans","labelFontSize":23,"labelColor":"black","labelOffset":22,
    "symbolType":"M-6.6,0L6.6,0","symbolSize":64,"symbolStrokeWidth":1.5}}
 }},
{"data":{"name":"labels"},
 "mark":{"type":"text","angle":270,"align":"left","baseline":"middle","font":"Liberation Serif","fontSize":20,"color":"black"},
 "encoding":{
  "x":{"field":"x","type":"quantitative","scale":{"domain":[5,70],"nice":false,"zero":false},
   "axis":{"orient":"bottom","values":[7.5,12.5,17.5,22.5,27.5,32.5,37.5,42.5,47.5,52.5,57.5,62.5,67.5],"labels":false,"domain":false,"grid":false,"tickSize":5,"tickWidth":1.5,"tickColor":"black","title":null}},
  "y":{"field":"y","type":"quantitative","scale":{"domain":[-0.19,4.5],"nice":false,"zero":false},
   "axis":{"orient":"left","values":[0.25,0.75,1.25,1.75,2.25,2.75,3.25,3.75,4.25],"labels":false,"domain":false,"grid":false,"tickSize":5,"tickWidth":1.5,"tickColor":"black","title":null}},
  "text":{"field":"t","type":"nominal"}
 }},
{"data":{"name":"arrow"},
 "mark":{"type":"rule","color":"black","strokeWidth":1},
 "encoding":{
  "x":{"field":"x","type":"quantitative","scale":{"domain":[5,70],"nice":false,"zero":false},"axis":null},
  "y":{"field":"y","type":"quantitative","scale":{"domain":[-0.19,4.5],"nice":false,"zero":false},"axis":null},
  "x2":{"field":"x2"},"y2":{"field":"y2"}
 }},
{"data":{"name":"arrow"},
 "mark":{"type":"point","shape":"M-0.7,-1.6L0,0L0.7,-1.6","filled":false,"stroke":"black","strokeWidth":1,"size":64,"angle":-13,"opacity":1},
 "encoding":{
  "x":{"field":"x2","type":"quantitative","scale":{"domain":[5,70],"nice":false,"zero":false},"axis":null},
  "y":{"field":"y2","type":"quantitative","scale":{"domain":[-0.19,4.5],"nice":false,"zero":false},"axis":null}
 }}
],
"resolve":{"axis":{"x":"independent","y":"independent"}}
}
